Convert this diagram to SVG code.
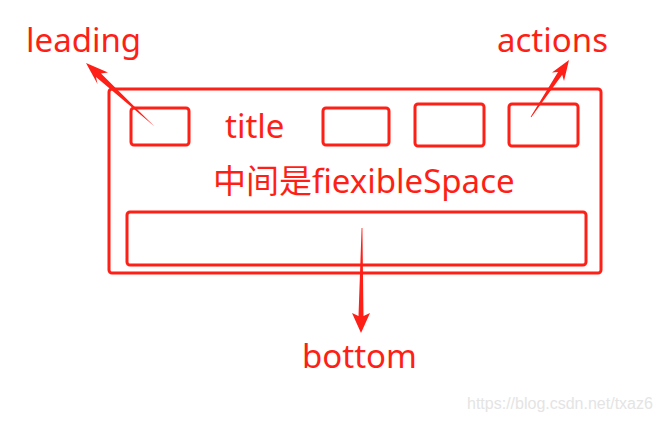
<svg xmlns="http://www.w3.org/2000/svg" width="659" height="422" viewBox="0 0 659 422">
<style>
.box{fill:none;stroke:#fe1f17;stroke-width:3;}
.lbl{fill:#fe1f17;font-family:"Noto Sans","Noto Sans CJK SC",sans-serif;font-size:33px;}
.arr{fill:#fe1f17;}
.wm{fill:#e4e4e4;font-family:"Liberation Sans",Arial,sans-serif;font-size:16px;}
</style>
<rect width="659" height="422" fill="#ffffff"/>
<g id="appbar"><rect class="box" x="109" y="89" width="492" height="184" rx="3"/></g>
<g id="leading-box"><rect class="box" x="131" y="108" width="58" height="37" rx="3"/></g>
<g id="title"><text class="lbl" x="225" y="138" font-size="32">title</text></g>
<g id="box2"><rect class="box" x="323" y="108" width="66" height="37" rx="3"/></g>
<g id="box3"><rect class="box" x="415" y="104" width="69" height="42" rx="3"/></g>
<g id="actions-box"><rect class="box" x="509" y="104" width="69" height="42" rx="3"/></g>
<g id="flexible"><text class="lbl" x="213" y="193">中间是fiexibleSpace</text></g>
<g id="bottom-box"><rect class="box" x="127" y="212" width="459" height="53" rx="3"/></g>
<g id="leading"><text class="lbl" x="26" y="52">leading</text></g>
<g id="actions"><text class="lbl" x="497" y="52">actions</text></g>
<g id="bottom"><text class="lbl" x="302" y="368">bottom</text></g>
<g id="connectors">
<polygon class="arr" points="154.3,126.3 101,73.5 108,72.5 86,63 97.5,84 96,77 153.7,125.7"/>
<polygon class="arr" points="531.3,117.2 562.2,74.7 564,81 569,60 552,72.5 558,71.9 530.7,116.8"/>
<polygon class="arr" points="362.4,228 363.5,316 370,313 361,333 352,313 358.5,316 361.6,228"/>
</g>
<text class="wm" x="467" y="409">https://blog.csdn.net/txaz6</text>
</svg>
